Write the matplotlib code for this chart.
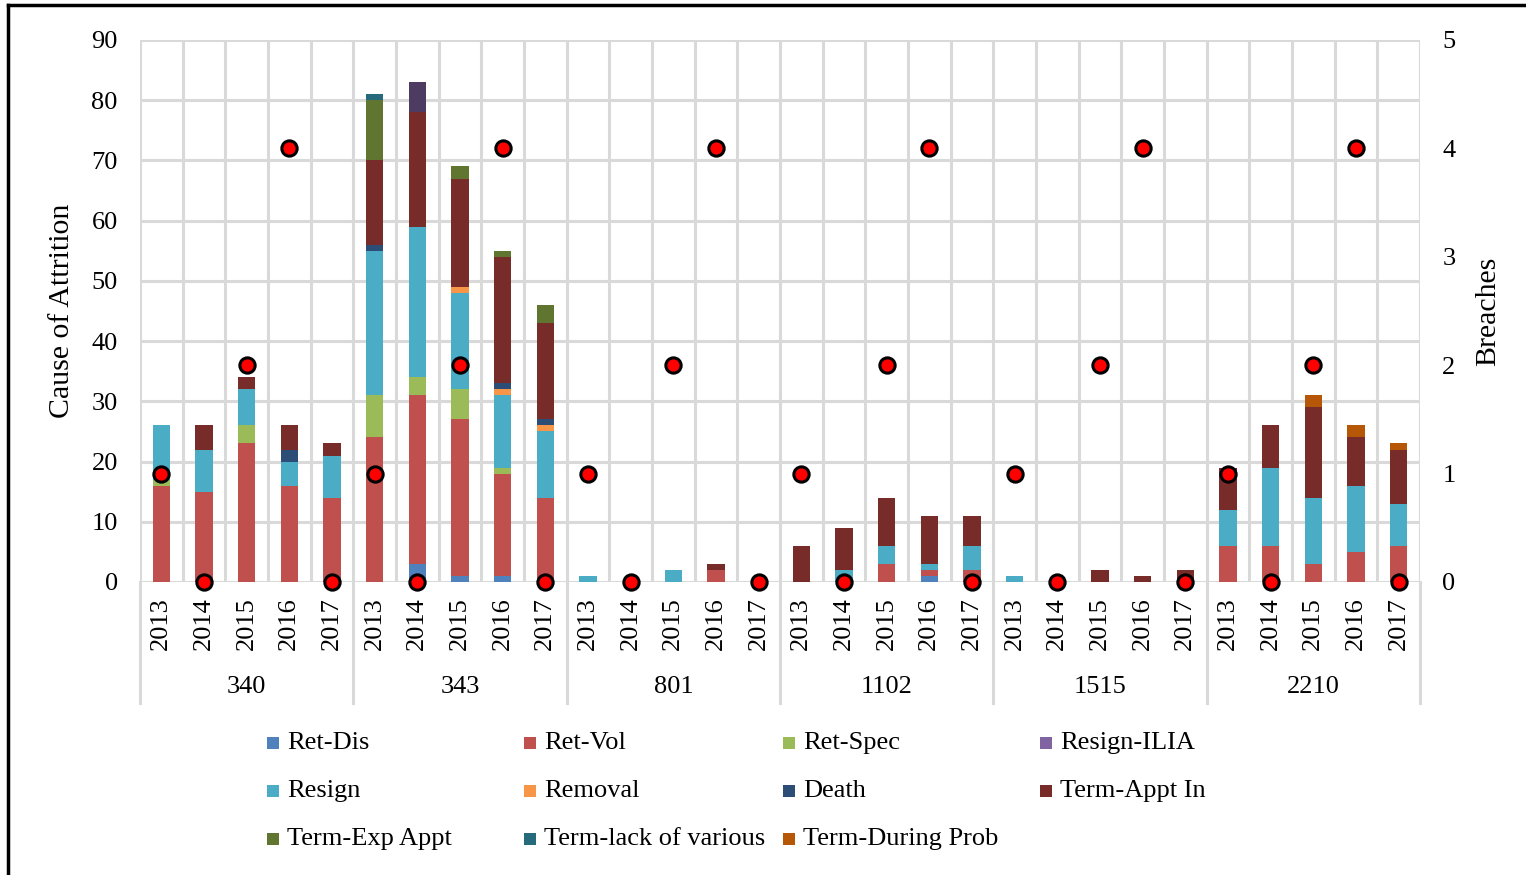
import matplotlib
matplotlib.use("Agg")
import matplotlib.pyplot as plt
from matplotlib.lines import Line2D
from matplotlib.patches import Rectangle
import matplotlib.transforms as mtransforms
import numpy as np

plt.rcParams['font.family'] = ['Liberation Serif', 'DejaVu Serif']

groups = ["340", "343", "801", "1102", "1515", "2210"]
years = ["2013", "2014", "2015", "2016", "2017"]

ret_dis      = [0,0,0,0,0,  0,3,1,1,0,  0,0,0,0,0,  0,0,0,1,0,  0,0,0,0,0,  0,0,0,0,0]
ret_vol      = [16,15,23,16,14, 24,28,26,17,14, 0,0,0,2,0, 0,0,3,1,2, 0,0,0,0,0, 6,6,3,5,6]
ret_spec     = [1,0,3,0,0,  7,3,5,1,0,  0,0,0,0,0,  0,0,0,0,0,  0,0,0,0,0,  0,0,0,0,0]
resign       = [9,7,6,4,7,  24,25,16,12,11, 1,0,2,0,0, 0,2,3,1,4, 1,0,0,0,0, 6,13,11,11,7]
removal      = [0,0,0,0,0,  0,0,1,1,1,  0,0,0,0,0,  0,0,0,0,0,  0,0,0,0,0,  0,0,0,0,0]
death        = [0,0,0,2,0,  1,0,0,1,1,  0,0,0,0,0,  0,0,0,0,0,  0,0,0,0,0,  0,0,0,0,0]
term_appt_in = [0,4,2,4,2,  14,19,18,21,16, 0,0,0,1,0, 6,7,8,8,5, 0,0,2,1,2, 7,7,15,8,9]
term_exp     = [0,0,0,0,0,  10,0,2,1,3, 0,0,0,0,0,  0,0,0,0,0,  0,0,0,0,0,  0,0,0,0,0]
term_lack    = [0,0,0,0,0,  1,0,0,0,0,  0,0,0,0,0,  0,0,0,0,0,  0,0,0,0,0,  0,0,0,0,0]
term_during  = [0,0,0,0,0,  0,0,0,0,0,  0,0,0,0,0,  0,0,0,0,0,  0,0,0,0,0,  0,0,2,2,1]
resign_ilia  = [0,0,0,0,0,  0,5,0,0,0,  0,0,0,0,0,  0,0,0,0,0,  0,0,0,0,0,  0,0,0,0,0]
breaches     = [1,0,2,4,0]*6

series = [
    ("Ret-Dis", ret_dis, "#4F81BD"),
    ("Ret-Vol", ret_vol, "#C0504D"),
    ("Ret-Spec", ret_spec, "#9BBB59"),
    ("Resign", resign, "#4BACC6"),
    ("Removal", removal, "#F79646"),
    ("Death", death, "#2C4D75"),
    ("Term-Appt In", term_appt_in, "#772C2A"),
    ("Term-Exp Appt", term_exp, "#5F7530"),
    ("Term-lack of various", term_lack, "#276A7C"),
    ("Term-During Prob", term_during, "#B65708"),
    ("Resign-ILIA", resign_ilia, "#4D3B62"),
]
legend_colors = {n: c for n, _, c in series}
legend_colors["Resign-ILIA"] = "#8064A2"
legend_rows = [["Ret-Dis", "Ret-Vol", "Ret-Spec", "Resign-ILIA"],
               ["Resign", "Removal", "Death", "Term-Appt In"],
               ["Term-Exp Appt", "Term-lack of various", "Term-During Prob"]]

W, H = 1526, 875
fig = plt.figure(figsize=(W/100, H/100), dpi=100)
L, R, T, B = 140, 1420, 40, 582
ax = fig.add_axes([L/W, 1-B/H, (R-L)/W, (B-T)/H])

n = len(ret_vol)
x = np.arange(n) + 0.5
bottom = np.zeros(n)
for name, vals, col in series:
    v = np.array(vals, dtype=float)
    ax.bar(x, v, width=0.41, bottom=bottom, color=col, zorder=3, linewidth=0)
    bottom += v

ax.set_xlim(0, n)
ax.set_ylim(0, 90)
ax.set_yticks(np.arange(0, 91, 10))
ax.set_xticks(np.arange(0, n+1), minor=True)
ax.set_xticks(x)
ax.set_xticklabels(years*len(groups), rotation=90, fontsize=19)
ax.tick_params(axis='x', which='both', length=0, pad=11)
ax.tick_params(axis='y', length=0, pad=16, labelsize=19)
ax.grid(True, axis='y', color='#D9D9D9', lw=2.2, zorder=0)
ax.grid(True, axis='x', which='minor', color='#D9D9D9', lw=2.2, zorder=0)
ax.grid(False, axis='x', which='major')
ax.set_axisbelow(True)
for s in ax.spines.values():
    s.set_visible(False)
ax.set_ylabel("Cause of Attrition", fontsize=21.5, labelpad=12)

ax2 = ax.twinx()
ax2.plot(x, breaches, linestyle='none', marker='o', markersize=11,
         markerfacecolor='#FF0000', markeredgecolor='black', markeredgewidth=2.2,
         zorder=5, clip_on=False)
ax2.set_ylim(0, 5)
ax2.set_yticks(np.arange(0, 6, 1))
ax2.tick_params(axis='y', length=0, pad=16, labelsize=19)
for s in ax2.spines.values():
    s.set_visible(False)
ax2.set_ylabel("Breaches", fontsize=21.5, labelpad=14)

# group labels and separators
trans = mtransforms.blended_transform_factory(ax.transData, ax.transAxes)
sep_bottom = -(703-582)/(B-T)
for gi, g in enumerate(groups):
    ax.text(gi*5 + 2.5, -(687-582)/(B-T), g, transform=trans, ha='center',
            va='center', fontsize=19)
for gi in range(len(groups)+1):
    ax.add_line(Line2D([gi*5, gi*5], [0, sep_bottom], transform=trans,
                       color='#D9D9D9', lw=2.2, clip_on=False))

# legend
col_x = [267, 524, 783, 1040]
row_y = [743, 791, 839]
for ri, row in enumerate(legend_rows):
    for ci, name in enumerate(row):
        px, py = col_x[ci], row_y[ri]
        fig.add_artist(Rectangle(((px)/W, 1-(py+6)/H), 12/W, 12/H,
                                 transform=fig.transFigure, color=legend_colors[name], lw=0))
        fig.text((px+20)/W, 1-py/H, name, fontsize=19, va='center', ha='left')

# frame
fig.add_artist(Line2D([8/W, 8/W], [0, 1-5/H], transform=fig.transFigure, color='black', lw=2.5))
fig.add_artist(Line2D([8/W, 1], [1-5/H, 1-5/H], transform=fig.transFigure, color='black', lw=2.5))

fig.savefig("out.png", dpi=100)
